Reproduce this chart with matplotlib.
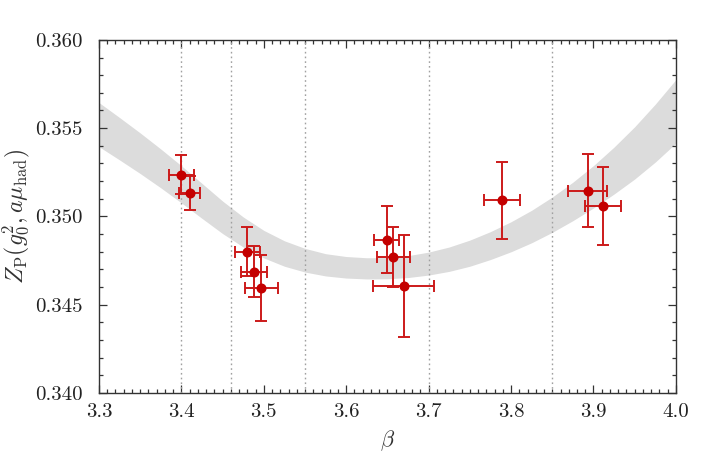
import matplotlib
matplotlib.use("Agg")
import matplotlib.pyplot as plt
from matplotlib.ticker import MultipleLocator, FormatStrFormatter

# ---- data ----
beta = [3.400, 3.410, 3.480, 3.488, 3.497, 3.649, 3.657, 3.670, 3.789, 3.893, 3.912]
zp = [0.35237, 0.35131, 0.34801, 0.34687, 0.34595, 0.34867, 0.34772, 0.34606, 0.35093, 0.35146, 0.35059]
zp_err = [0.00112, 0.00096, 0.00140, 0.00146, 0.00185, 0.00190, 0.00170, 0.00287, 0.00218, 0.00205, 0.00220]
beta_err = [0.015, 0.0125, 0.015, 0.0158, 0.020, 0.015, 0.020, 0.037, 0.022, 0.0237, 0.022]

band_beta = [3.300, 3.325, 3.350, 3.375, 3.400, 3.425, 3.450, 3.475, 3.500, 3.525,
             3.550, 3.575, 3.600, 3.625, 3.650, 3.675, 3.700, 3.725, 3.750, 3.775,
             3.800, 3.825, 3.850, 3.875, 3.900, 3.925, 3.950, 3.975, 4.000]
band_upper = [0.35645, 0.35560, 0.35473, 0.35382, 0.35287, 0.35187, 0.35087, 0.34997, 0.34921, 0.34862,
              0.34819, 0.34789, 0.34773, 0.34766, 0.34767, 0.34778, 0.34798, 0.34827, 0.34866, 0.34914,
              0.34970, 0.35035, 0.35110, 0.35194, 0.35288, 0.35393, 0.35508, 0.35636, 0.35775]
band_lower = [0.35395, 0.35320, 0.35243, 0.35162, 0.35077, 0.34989, 0.34903, 0.34827, 0.34765, 0.34718,
              0.34685, 0.34663, 0.34651, 0.34646, 0.34647, 0.34654, 0.34668, 0.34689, 0.34718, 0.34756,
              0.34800, 0.34851, 0.34910, 0.34976, 0.35048, 0.35127, 0.35212, 0.35308, 0.35415]

vlines = [3.40, 3.46, 3.55, 3.70, 3.85]

xticks = [3.3, 3.4, 3.5, 3.6, 3.7, 3.8, 3.9, 4.0]
yticks = [0.340, 0.345, 0.350, 0.355, 0.360]

plt.rcParams["mathtext.fontset"] = "cm"
plt.rcParams["font.family"] = ["cmr10", "DejaVu Serif"]
plt.rcParams["axes.formatter.use_mathtext"] = True

fig = plt.figure(figsize=(7.07, 4.69), dpi=100)
ax = fig.add_axes([0.140, 0.162, 0.816, 0.753])

ax.fill_between(band_beta, band_lower, band_upper, color="#dcdcdc", linewidth=0, zorder=1)
for v in vlines:
    ax.axvline(v, color="#a0a0a0", linestyle=(0, (1.2, 2.2)), linewidth=1.0, zorder=2)

ax.errorbar(beta, zp, yerr=zp_err, xerr=beta_err, fmt="o", color="#c40000",
            ecolor="#cc1a1a", elinewidth=1.4, capsize=4, capthick=1.4,
            markersize=6.2, zorder=3)

ax.set_xlim(3.3, 4.0)
ax.set_ylim(0.340, 0.360)
ax.set_xticks(xticks)
ax.set_yticks(yticks)
ax.xaxis.set_major_formatter(FormatStrFormatter("%.1f"))
ax.yaxis.set_major_formatter(FormatStrFormatter("%.3f"))
ax.xaxis.set_minor_locator(MultipleLocator(0.01))
ax.yaxis.set_minor_locator(MultipleLocator(0.001))
ax.tick_params(which="both", direction="in", top=True, right=True, colors="#333333",
               labelcolor="#222222", labelsize=15, width=0.9)
ax.tick_params(which="major", length=6)
ax.tick_params(which="minor", length=3)
ax.tick_params(axis="y", which="major", pad=12)
ax.tick_params(axis="x", which="major", pad=7.5)
for s in ax.spines.values():
    s.set_color("#333333")
    s.set_linewidth(1.0)

ax.set_xlabel(r"$\beta$", fontsize=16, color="#333333", labelpad=5)
ax.set_ylabel(r"$Z_{\rm P}(g_0^2, a\mu_{\rm had})$", fontsize=17, color="#333333", labelpad=2)

fig.savefig("out.png", dpi=100)
